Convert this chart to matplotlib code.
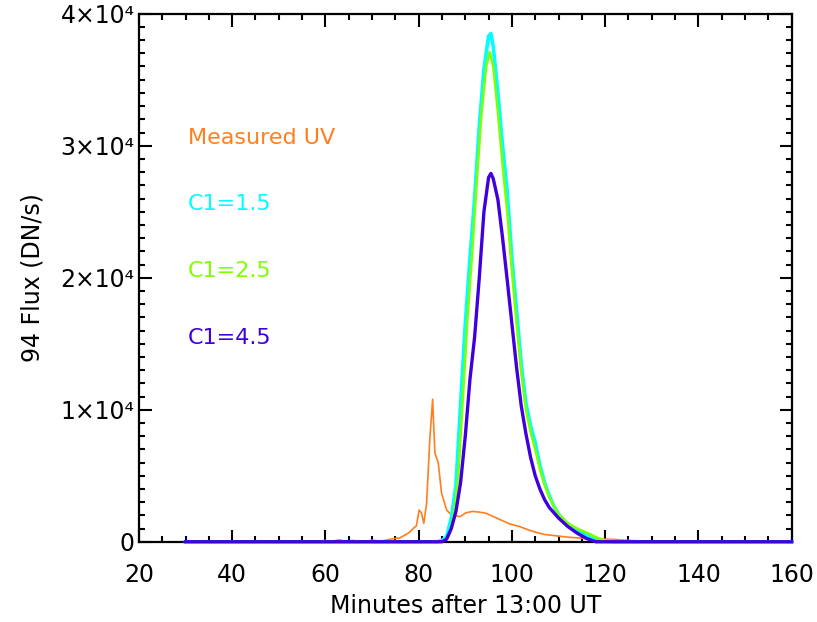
import numpy as np
import matplotlib
matplotlib.use('Agg')
import matplotlib.pyplot as plt
from matplotlib.ticker import MultipleLocator, FixedLocator

# Measured UV (scaled), minutes after 13:00 UT
t_uv = [30, 58, 60, 61, 63, 64, 66, 68, 70, 72, 74, 76, 78, 78.8, 79.5, 80.1, 80.6, 81.1,
        81.7, 82.4, 83.0, 83.2, 83.5, 84.2, 84.9, 86, 87, 88.8, 90.2, 91.5, 93, 94.5,
        96.7, 99.5, 101.7, 103.5, 105.3, 107, 109.5, 112, 114.6, 117, 120, 122, 125,
        128, 130, 160]
f_uv = [0, 0, 100, 0, 150, 50, 100, 0, 120, 50, 200, 300, 700, 1000, 1200, 2400, 2200, 1400,
        2900, 7800, 10800, 9000, 6700, 6000, 3700, 2400, 2050, 1900, 2200, 2300, 2250, 2150,
        1800, 1350, 1150, 900, 700, 550, 450, 350, 280, 220, 200, 170, 100,
        50, 0, 0]

# C1 = 1.5
t_c15 = [30, 84, 85, 86, 87, 88, 89, 90, 91, 92, 93, 94, 95, 95.5, 96, 97, 98, 99, 100,
         101, 102, 103, 104, 105, 106, 107, 108, 109, 110, 111, 112, 114, 116, 118, 120,
         122, 160]
f_c15 = [0, 0, 100, 400, 1800, 4300, 10500, 16500, 21500, 26000, 31500, 35800, 38300, 38500,
         37500, 34000, 30000, 26500, 21500, 17500, 13500, 10500, 8800, 7500, 5800, 4500,
         3500, 2700, 2100, 1700, 1300, 900, 500, 150, 50, 0, 0]

# C1 = 2.5
t_c25 = [30, 84.5, 85.5, 86.5, 87.5, 88.5, 89.5, 90.5, 91.5, 92.5, 93.5, 94.5, 95.2, 96,
         97, 98, 99, 100, 101, 102, 103, 104, 105, 106, 107, 108, 109, 110, 112, 114, 116,
         118, 120, 122, 160]
f_c25 = [0, 0, 100, 500, 2000, 5000, 11000, 17000, 22000, 27500, 32500, 36000, 37100, 36000,
         32500, 28500, 25000, 20500, 16500, 12800, 10000, 8300, 7000, 5500, 4300, 3400,
         2700, 2100, 1400, 1000, 700, 350, 100, 0, 0]

# C1 = 4.5
t_c45 = [30, 85, 86, 87, 88, 89, 90, 91, 92, 93, 94, 95, 95.5, 96, 97, 98, 99, 100, 101,
         102, 103, 104, 105, 106, 107, 108, 110, 112, 114, 116, 118, 160]
f_c45 = [0, 0, 200, 1000, 2300, 4500, 8000, 12300, 15500, 20000, 25000, 27600, 27900, 27500,
         25900, 23000, 19800, 16500, 13200, 10300, 8200, 6400, 5000, 4000, 3200, 2600,
         1800, 1150, 650, 250, 0, 0]

labels = ['Measured UV', 'C1=1.5', 'C1=2.5', 'C1=4.5']
colors = ['#ff7f1f', '#00ffff', '#80ff00', '#4000dd']

yticks = [0, 1e4, 2e4, 3e4, 4e4]
ytick_labels = ['0', '1×10⁴', '2×10⁴', '3×10⁴', '4×10⁴']

fig = plt.figure(figsize=(8.17, 6.22), dpi=100)
ax = fig.add_axes([0.170, 0.129, 0.799, 0.849])

ax.plot(t_uv, f_uv, color=colors[0], lw=1.2, zorder=3, clip_on=False)
ax.plot(t_c15, f_c15, color=colors[1], lw=2.6, zorder=4, clip_on=False)
ax.plot(t_c25, f_c25, color=colors[2], lw=1.8, zorder=5, clip_on=False)
ax.plot(t_c45, f_c45, color=colors[3], lw=2.4, zorder=6, clip_on=False)

ax.set_xlim(20, 160)
ax.set_ylim(0, 4e4)
ax.xaxis.set_major_locator(MultipleLocator(20))
ax.xaxis.set_minor_locator(MultipleLocator(5))
ax.yaxis.set_major_locator(FixedLocator(yticks))
ax.yaxis.set_minor_locator(MultipleLocator(1000))
ax.set_yticklabels(ytick_labels)

for s in ax.spines.values():
    s.set_linewidth(1.6)
ax.tick_params(which='both', direction='in', top=True, right=True, width=1.5)
ax.tick_params(which='major', length=9)
ax.tick_params(which='minor', length=4.5)
ax.tick_params(axis='x', which='major', pad=15, labelsize=17)
ax.tick_params(axis='y', which='major', pad=3, labelsize=17)

ax.set_xlabel('Minutes after 13:00 UT', fontsize=17, labelpad=5)
ax.set_ylabel('94 Flux (DN/s)', fontsize=17, labelpad=12)

# labels written inside the plot, IDL style
for i, (lab, col) in enumerate(zip(labels, colors)):
    ax.text(30.5, 30600 - i * 5050, lab, color=col, fontsize=16, va='center', ha='left')

fig.savefig('out.png', dpi=100)
